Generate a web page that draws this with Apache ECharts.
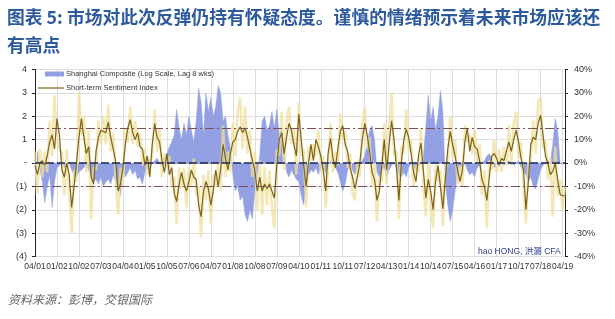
<!DOCTYPE html>
<html><head><meta charset="utf-8">
<script src="https://cdn.jsdelivr.net/npm/echarts@6/dist/echarts.min.js"></script>
<style>html,body{margin:0;padding:0;background:#fff}#c{width:615px;height:319px}</style>
</head><body><div id="c"></div>
<script>
// x-axis tick labels (every 9 months, mm/yy)
const tickLabels = ['04/01','01/02','10/02','07/03','04/04','01/05','10/05','07/06','04/07','01/08','10/08','07/09','04/10','01/11','10/11','07/12','04/13','01/14','10/14','07/15','04/16','01/17','10/17','07/18','04/19'];
const leftTickLabels = ['(4)','(3)','(2)','(1)','-','1','2','3','4'];
const rightTickLabels = ['-40%','-30%','-20%','-10%','0%','10%','20%','30%','40%'];

// Short-term Sentiment Index (smoothed, monthly readings, left axis)
const sentiment = [
-0.1,-0.5,0.0,0.1,-0.1,0.3,0.9,1.2,0.6,1.9,
1.2,-0.3,-0.6,0.0,-0.5,-1.9,-1.0,0.0,1.1,1.9,
1.1,0.4,0.7,-0.6,-0.9,0.5,1.1,1.4,1.35,1.3,
1.75,1.1,0.6,0.1,-1.2,-0.9,-0.2,0.8,1.5,1.85,
1.3,1.0,1.3,0.7,0.6,-0.1,0.3,-0.6,0.8,1.7,
1.1,0.9,0.1,-0.4,0.4,-0.5,-0.2,-1.3,-1.65,-0.9,
-0.4,-0.9,-1.2,-0.8,-0.3,-0.6,-0.7,-1.8,-2.3,-1.2,
-0.8,-1.1,-1.8,-1.2,-0.3,-1.0,-0.3,0.8,0.2,-0.3,
0.4,0.9,1.0,1.35,1.55,1.3,1.5,1.1,0.6,0.1,
-0.3,-1.2,-0.6,-1.2,-0.9,-1.1,-0.9,-1.2,-1.5,-0.1,
1.0,1.3,0.4,1.1,1.7,1.4,0.8,0.3,2.1,1.0,
-0.1,-1.0,0.0,0.8,0.1,1.0,0.7,0.3,-0.3,-1.2,
0.4,1.05,0.2,-0.2,0.6,1.35,1.6,0.8,0.5,-0.2,
-0.6,-1.1,-0.6,0.0,1.0,1.7,1.2,0.5,-0.4,-0.7,
-1.6,-1.2,-0.1,1.0,-0.3,0.8,1.8,1.0,-0.2,-1.6,
0.0,1.0,1.45,1.1,0.4,-0.4,-0.8,0.3,0.85,-0.3,
-1.5,-0.7,-1.2,-2.0,-0.8,-0.1,-1.0,-1.95,-0.7,0.6,
1.35,0.8,0.3,-0.3,-0.8,-0.3,0.9,1.5,0.5,1.1,
0.7,0.6,0.1,-0.7,-1.0,-1.6,-0.6,0.3,0.4,0.2,
-0.1,0.2,0.1,0.5,0.9,0.5,1.0,1.4,0.9,0.2,
-0.3,-2.0,-0.8,0.8,1.1,1.0,1.7,2.05,1.2,0.3,
0.0,-0.5,-0.35,0.0,-0.7,-1.35,-1.4,-1.4
];

// Raw (unsmoothed) sentiment readings, drawn as the light band
const sentimentRaw = [
0.5,-1.3,0.6,-0.6,0.5,-0.4,1.8,0.3,2.9,1.0,
0.6,0.4,-1.4,0.6,-1.2,-3.0,-0.3,-0.8,3.0,1.2,
2.0,-0.4,1.4,-2.4,-0.2,-0.3,1.8,0.8,2.0,0.8,
2.5,0.5,1.3,-0.6,-2.2,-0.2,-1.0,1.5,0.9,2.4,
0.8,1.8,0.7,1.3,-0.1,0.6,-0.5,0.1,0.2,2.3,
0.5,1.5,-0.6,0.4,-0.2,0.3,-1.0,-0.6,-2.6,-0.2,
-1.1,-0.2,-1.9,-0.2,-1.0,0.2,-1.4,-1.0,-3.2,-0.5,
-1.6,-0.3,-2.6,-0.5,-1.0,0.0,-1.2,1.6,-0.6,0.5,
-0.4,1.7,0.3,2.2,2.8,0.6,2.4,0.4,1.4,-0.6,
0.5,-2.0,0.1,-2.2,-0.2,-1.8,-0.3,-1.9,-2.8,0.6,
0.3,2.2,-0.3,1.8,2.4,0.8,1.5,-0.5,2.6,0.3,
0.6,-1.9,0.7,0.1,0.8,0.3,1.4,-0.4,0.3,-1.9,
-0.3,1.7,-0.4,0.5,-0.1,2.1,1.0,1.4,-0.2,0.4,
-1.3,-1.6,0.1,-0.6,1.6,2.4,0.6,1.1,-1.0,0.0,
-2.5,-0.6,-0.8,1.7,-0.9,1.5,3.0,0.3,0.5,-2.4,
0.7,0.4,2.3,0.5,1.0,-1.0,-0.1,-0.4,1.5,-1.0,
-2.3,0.0,-1.9,-2.8,-0.1,-0.8,-0.3,-2.7,0.0,-0.1,
2.0,0.2,1.0,-0.9,-0.1,-1.0,1.6,0.9,1.2,0.4,
1.4,0.0,0.8,-1.4,-0.3,-2.8,0.1,-0.3,1.0,-0.4,
0.6,-0.4,0.7,-0.1,1.6,-0.1,1.7,2.2,0.2,0.9,
-1.0,-2.6,-0.1,0.2,1.8,0.4,2.6,2.8,0.6,1.0,
-0.7,0.2,-2.3,0.7,-1.4,-0.7,-2.0,-1.0
];

// Shanghai Composite (log scale, lag 8 wks), % deviation, right axis
const shanghai = [
-14,5,-3,-8,-17,-10,-5,-19,-8,-2,
-1,0,-2,-1,0,-3,-5,-6,-4,-3,
-2,-1,-3,-6,-8,-7,-9,-6,-10,-8,
-7,-9,-5,-8,-10,-14,-3,-6,-4,-2,
-5,-3,-7,-6,-9,-4,-2,-3,0,1,
2,0,-1,2,4,7,9,12,23,15,
10,17,12,20,14,9,18,32,26,12,
30,22,28,20,24,33,30,18,20,12,
6,-5,-12,-10,-16,-14,-22,-25,-20,-24,
-12,-5,3,18,20,14,16,22,15,23,
12,15,6,-4,-6,-3,-5,-7,-8,-14,
-18,-10,-5,-3,-4,-2,-5,-2,-3,-4,
-1,1,0,-2,-4,-8,-12,-9,-3,-1,
-3,-5,-2,0,1,3,8,14,16,10,
-4,-6,-3,-2,-6,-3,-1,0,-2,-5,
-6,-4,-6,-2,0,-1,-3,-1,0,3,
15,29,18,24,14,20,31,22,-8,-18,
-25,-20,-12,-5,-2,-1,0,-3,-5,-4,
-6,-2,-1,0,1,3,4,2,-2,-1,
0,0,-1,0,1,0,-1,0,1,-2,
-3,-5,-8,-6,-10,-11,-7,-3,-1,0,
1,0,8,19,14,0,0,0
];

// monthly categories mm/yy starting April 2001
const categories = [];
for (let i = 0; i < sentiment.length; i++) {
  const mo = (3 + i) % 12 + 1;
  const yr = 1 + Math.floor((3 + i) / 12);
  categories.push(String(mo).padStart(2, '0') + '/' + String(yr).padStart(2, '0'));
}

const BLUE = '#93a0e4';
const OLIVE = '#7b6417';
const chart = echarts.init(document.getElementById('c'), null, {renderer: 'canvas'});
chart.setOption({
  animation: false,
  backgroundColor: '#fff',
  title: {
    text: '图表 5: 市场对此次反弹仍持有怀疑态度。谨慎的情绪预示着未来市场应该还\n有高点',
    left: 7, top: 3, padding: 0,
    textStyle: {fontFamily: 'Noto Sans CJK SC', fontSize: 17.8, fontWeight: 'bold', color: '#2d5a9c', lineHeight: 28}
  },
  grid: {left: 35, right: 50, top: 69.5, bottom: 62.5},
  xAxis: {
    type: 'category', data: categories, boundaryGap: false,
    axisLine: {show: true, lineStyle: {color: '#aaa'}},
    axisTick: {show: false},
    axisLabel: {interval: 8, showMinLabel: true, showMaxLabel: true, hideOverlap: false,
      fontSize: 8.5, color: '#333', margin: 6, fontFamily: 'Liberation Sans',
      formatter: (v, i) => tickLabels[i / 9] || ''},
    splitLine: {show: true, interval: 8, lineStyle: {color: '#dedede', width: 1}}
  },
  yAxis: [{
    type: 'value', min: -4, max: 4, interval: 1, position: 'left',
    axisLine: {show: true, lineStyle: {color: '#222'}},
    axisTick: {show: true, length: 3, lineStyle: {color: '#222'}},
    axisLabel: {fontSize: 9, color: '#333', margin: 8, fontFamily: 'Liberation Sans', formatter: v => leftTickLabels[Math.round(v) + 4]},
    splitLine: {show: true, lineStyle: {color: '#dedede'}}
  }, {
    type: 'value', min: -40, max: 40, interval: 10, position: 'right',
    axisLine: {show: true, lineStyle: {color: '#222'}},
    axisTick: {show: true, length: 3, lineStyle: {color: '#222'}},
    axisLabel: {fontSize: 9, color: '#333', margin: 9, fontFamily: 'Liberation Sans', formatter: v => rightTickLabels[Math.round((v + 40) / 10)]},
    splitLine: {show: false}
  }],
  series: [{
    name: 'Shanghai Composite (Log Scale, Lag 8 wks)', type: 'line', yAxisIndex: 1, data: shanghai,
    showSymbol: false, silent: true, z: 1,
    lineStyle: {width: 0.5, color: BLUE}, areaStyle: {color: BLUE, opacity: 1}
  }, {
    name: 'raw', type: 'line', data: sentimentRaw, showSymbol: false, silent: true, z: 2,
    lineStyle: {width: 2.6, color: 'rgba(240,223,158,0.75)'}
  }, {
    name: 'Short-term Sentiment Index', type: 'line', data: sentiment, showSymbol: false, silent: true, z: 3,
    lineStyle: {width: 1.2, color: OLIVE},
    markLine: {
      silent: true, symbol: 'none', label: {show: false},
      data: [
        {yAxis: 0, lineStyle: {color: '#1c2757', width: 1.6, type: [8, 3]}},
        {yAxis: 1.5, lineStyle: {color: '#7b4f55', width: 1.2, type: [9, 3, 2, 3]}},
        {yAxis: -1, lineStyle: {color: '#7b4f55', width: 1.2, type: [9, 3, 2, 3]}}
      ]
    }
  }],
  graphic: [
    {type: 'rect', shape: {x: 45, y: 71.5, width: 19, height: 5}, style: {fill: BLUE}, z: 10},
    {type: 'text', x: 66, y: 74, style: {text: 'Shanghai Composite (Log Scale, Lag 8 wks)', font: '7.5px "Liberation Sans"', fill: '#333', verticalAlign: 'middle'}, z: 10},
    {type: 'line', shape: {x1: 38, y1: 88, x2: 64, y2: 88}, style: {stroke: OLIVE, lineWidth: 1.2}, z: 10},
    {type: 'text', x: 66, y: 88, style: {text: 'Short-term Sentiment Index', font: '7.5px "Liberation Sans"', fill: '#333', verticalAlign: 'middle'}, z: 10},
    {type: 'text', x: 478, y: 252, style: {text: 'hao HONG, 洪灝 CFA', font: '8.5px "Liberation Sans", "Noto Sans CJK SC"', fill: '#2e3d8a', verticalAlign: 'middle'}, z: 10},
    {type: 'text', x: 8, y: 299, style: {text: '资料来源：彭博，交银国际', font: 'italic 12px "Noto Sans CJK SC"', fill: '#666', verticalAlign: 'middle'}, z: 10}
  ]
});
</script>
</body></html>
